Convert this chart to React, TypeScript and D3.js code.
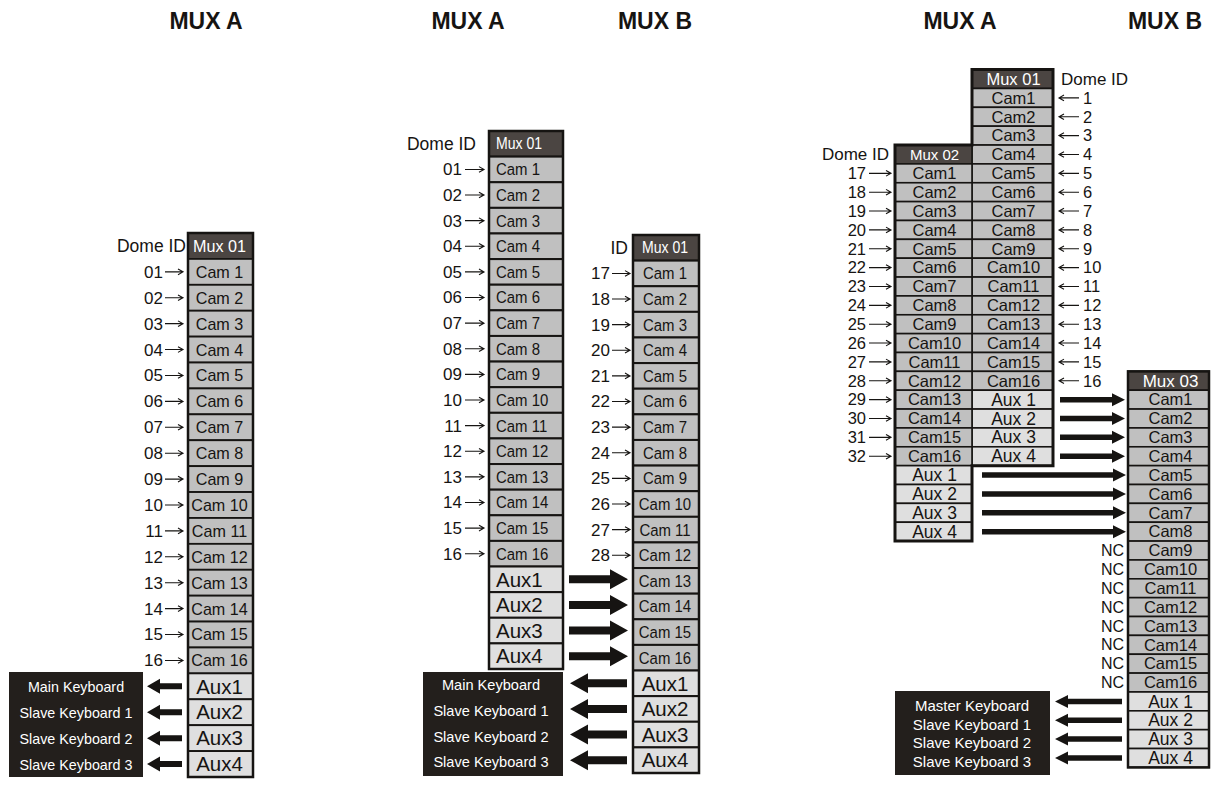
import React from 'react';
import * as d3 from 'd3';

// Labels
const muxTitles = ['MUX A', 'MUX A', 'MUX B', 'MUX A', 'MUX B'];
const camsSpaced = ['Cam 1', 'Cam 2', 'Cam 3', 'Cam 4', 'Cam 5', 'Cam 6', 'Cam 7', 'Cam 8',
  'Cam 9', 'Cam 10', 'Cam 11', 'Cam 12', 'Cam 13', 'Cam 14', 'Cam 15', 'Cam 16'];
const camsTight = ['Cam1', 'Cam2', 'Cam3', 'Cam4', 'Cam5', 'Cam6', 'Cam7', 'Cam8',
  'Cam9', 'Cam10', 'Cam11', 'Cam12', 'Cam13', 'Cam14', 'Cam15', 'Cam16'];
const auxTight = ['Aux1', 'Aux2', 'Aux3', 'Aux4'];
const auxSpaced = ['Aux 1', 'Aux 2', 'Aux 3', 'Aux 4'];
const domeIdsFirst = ['01', '02', '03', '04', '05', '06', '07', '08',
  '09', '10', '11', '12', '13', '14', '15', '16'];
const domeIdsSecond = ['17', '18', '19', '20', '21', '22', '23', '24', '25', '26', '27', '28'];
const domeIdsRightA = ['1', '2', '3', '4', '5', '6', '7', '8',
  '9', '10', '11', '12', '13', '14', '15', '16'];
const domeIdsRightB = ['17', '18', '19', '20', '21', '22', '23', '24',
  '25', '26', '27', '28', '29', '30', '31', '32'];
const ncLabels = ['NC', 'NC', 'NC', 'NC', 'NC', 'NC', 'NC', 'NC'];
const keyboardsMain = ['Main Keyboard', 'Slave Keyboard 1', 'Slave Keyboard 2', 'Slave Keyboard 3'];
const keyboardsMaster = ['Master Keyboard', 'Slave Keyboard 1', 'Slave Keyboard 2', 'Slave Keyboard 3'];

const FONT = 'Arial, "Liberation Sans", Helvetica, sans-serif';
const INK = '#161412';
const CAM_FILL = '#c0c0c0';
const AUX_FILL = '#dfdfdf';
const HEAD_FILL = '#4b4542';
const BOX_FILL = '#231f1c';

type Kind = 'head' | 'cam' | 'aux';
type Cell = { label: string; kind: Kind };

const buildCells = (head: string | null, cams: string[], aux: string[]): Cell[] => [
  ...(head ? [{ label: head, kind: 'head' as Kind }] : []),
  ...cams.map(l => ({ label: l, kind: 'cam' as Kind })),
  ...aux.map(l => ({ label: l, kind: 'aux' as Kind })),
];

function fatArrow(from: number, to: number, y: number, shaft: number, headLen: number, headH: number) {
  const dir = Math.sign(to - from);
  const neck = to - dir * headLen;
  const p = d3.path();
  p.moveTo(from, y - shaft / 2);
  p.lineTo(neck, y - shaft / 2);
  p.lineTo(neck, y - headH / 2);
  p.lineTo(to, y);
  p.lineTo(neck, y + headH / 2);
  p.lineTo(neck, y + shaft / 2);
  p.lineTo(from, y + shaft / 2);
  p.closePath();
  return p.toString();
}

function thinArrow(from: number, to: number, y: number) {
  const dir = Math.sign(to - from);
  const p = d3.path();
  p.moveTo(from, y);
  p.lineTo(to, y);
  p.moveTo(to - dir * 5, y - 2.8);
  p.lineTo(to, y);
  p.lineTo(to - dir * 5, y + 2.8);
  return p.toString();
}

const Txt: React.FC<{
  x: number; y: number; size: number; anchor?: string; fill?: string;
  weight?: string; squeeze?: number; children: React.ReactNode;
}> = ({ x, y, size, anchor = 'start', fill = INK, weight = 'normal', squeeze = 1, children }) => (
  <text
    transform={`translate(${x},${y}) scale(${squeeze},1)`}
    dy="0.35em"
    fontSize={size}
    fontFamily={FONT}
    fontWeight={weight}
    textAnchor={anchor}
    fill={fill}
  >
    {children}
  </text>
);

type ColProps = {
  x: number; w: number; rows: d3.ScaleLinear<number, number>; first: number; cells: Cell[];
  sizes: Record<Kind, number>; align: 'start' | 'middle'; pad?: number; squeeze?: number;
  cellStroke: number; border: number;
};

const MuxColumn: React.FC<ColProps> = ({ x, w, rows, first, cells, sizes, align, pad = 0, squeeze = 1, cellStroke, border }) => {
  const y0 = rows(first);
  const y1 = rows(first + cells.length);
  return (
    <g>
      {cells.map((c, i) => {
        const top = rows(first + i);
        const bot = rows(first + i + 1);
        const fill = c.kind === 'head' ? HEAD_FILL : c.kind === 'cam' ? CAM_FILL : AUX_FILL;
        const tx = align === 'start' ? x + pad : x + w / 2 + pad;
        return (
          <g key={i}>
            <rect x={x} y={top} width={w} height={bot - top} fill={fill} stroke={INK} strokeWidth={cellStroke} />
            <Txt x={tx} y={(top + bot) / 2} size={sizes[c.kind]} anchor={align}
              fill={c.kind === 'head' ? '#ffffff' : INK} squeeze={c.kind === 'aux' ? 1 : squeeze}>
              {c.label}
            </Txt>
          </g>
        );
      })}
      {border > 0 && (
        <rect x={x} y={y0} width={w} height={y1 - y0} fill="none" stroke={INK} strokeWidth={border} />
      )}
    </g>
  );
};

export default function App() {
  // row scales: row index -> top edge of that row
  const rowsL = d3.scaleLinear().domain([0, 21]).range([233, 777]);
  const rowsMA = d3.scaleLinear().domain([0, 21]).range([131, 669]);
  const rowsMB = d3.scaleLinear().domain([0, 21]).range([235, 773]);
  const rowsR = d3.scaleLinear().domain([0, 37]).range([69.6, 767.4]);
  const mid = (s: d3.ScaleLinear<number, number>, i: number) => (s(i) + s(i + 1)) / 2;

  const titleX = [206, 468, 655, 960, 1165];

  // right panel outline around Mux 01 + Mux 02
  const outline = d3.path();
  outline.moveTo(972, rowsR(0));
  outline.lineTo(1053, rowsR(0));
  outline.lineTo(1053, rowsR(21));
  outline.lineTo(972, rowsR(21));
  outline.lineTo(972, rowsR(25));
  outline.lineTo(895, rowsR(25));
  outline.lineTo(895, rowsR(4));
  outline.lineTo(972, rowsR(4));
  outline.closePath();

  return (
    <svg width={1215} height={787} style={{ position: 'fixed', left: 0, top: 0, background: '#fff' }}>
      {muxTitles.map((t, i) => (
        <Txt key={i} x={titleX[i]} y={20.5} size={23} anchor="middle" weight="bold">{t}</Txt>
      ))}

      {/* ---------- Panel 1: single mux ---------- */}
      <g>
        <Txt x={186} y={mid(rowsL, 0)} size={17.5} anchor="end">Dome ID</Txt>
        {domeIdsFirst.map((d, i) => (
          <g key={d}>
            <Txt x={163} y={mid(rowsL, i + 1)} size={17} anchor="end">{d}</Txt>
            <path d={thinArrow(165, 183, mid(rowsL, i + 1))} stroke={INK} strokeWidth={1.1} fill="none" />
          </g>
        ))}
        <MuxColumn x={188} w={65} rows={rowsL} first={0}
          cells={buildCells('Mux 01', camsSpaced, auxTight)}
          sizes={{ head: 17, cam: 17, aux: 20.5 }} align="middle" pad={-1} squeeze={0.95}
          cellStroke={1.8} border={2.5} />
        <rect x={9} y={672} width={134} height={105} fill={BOX_FILL} />
        {keyboardsMain.map((k, i) => (
          <g key={k}>
            <Txt x={76} y={mid(rowsL, 17 + i) + 0.5} size={14.3} anchor="middle" fill="#fff">{k}</Txt>
            <path d={fatArrow(182, 147, mid(rowsL, 17 + i), 6, 13, 15)} fill={INK} />
          </g>
        ))}
      </g>

      {/* ---------- Panel 2: two muxes ---------- */}
      <g>
        <Txt x={476} y={mid(rowsMA, 0)} size={17.5} anchor="end">Dome ID</Txt>
        {domeIdsFirst.map((d, i) => (
          <g key={d}>
            <Txt x={462} y={mid(rowsMA, i + 1)} size={17} anchor="end">{d}</Txt>
            <path d={thinArrow(465, 484, mid(rowsMA, i + 1))} stroke={INK} strokeWidth={1.1} fill="none" />
          </g>
        ))}
        <MuxColumn x={489} w={74} rows={rowsMA} first={0}
          cells={buildCells('Mux 01', camsSpaced, auxTight)}
          sizes={{ head: 16, cam: 17, aux: 20.5 }} align="start" pad={7} squeeze={0.88}
          cellStroke={2} border={2.5} />

        <Txt x={628} y={mid(rowsMB, 0)} size={17.5} anchor="end">ID</Txt>
        {domeIdsSecond.map((d, i) => (
          <g key={d}>
            <Txt x={610} y={mid(rowsMB, i + 1)} size={17} anchor="end">{d}</Txt>
            <path d={thinArrow(612, 630, mid(rowsMB, i + 1))} stroke={INK} strokeWidth={1.1} fill="none" />
          </g>
        ))}
        <MuxColumn x={633} w={66} rows={rowsMB} first={0}
          cells={buildCells('Mux 01', camsSpaced, auxTight)}
          sizes={{ head: 16, cam: 17, aux: 20.5 }} align="middle" pad={-1} squeeze={0.88}
          cellStroke={2} border={2.5} />

        {auxTight.map((a, i) => (
          <path key={a} d={fatArrow(569, 628, mid(rowsMA, 17 + i), 8, 18, 20)} fill={INK} />
        ))}

        <rect x={423} y={672} width={140} height={104} fill={BOX_FILL} />
        {keyboardsMain.map((k, i) => (
          <g key={k}>
            <Txt x={491} y={mid(rowsMB, 17 + i) + 2} size={14.6} anchor="middle" fill="#fff">{k}</Txt>
            <path d={fatArrow(627, 570, mid(rowsMB, 17 + i), 8, 18, 20)} fill={INK} />
          </g>
        ))}
      </g>

      {/* ---------- Panel 3: three muxes ---------- */}
      <g>
        <Txt x={1061} y={mid(rowsR, 0)} size={17} anchor="start">Dome ID</Txt>
        {domeIdsRightA.map((d, i) => (
          <g key={d}>
            <path d={thinArrow(1079, 1059, mid(rowsR, i + 1))} stroke={INK} strokeWidth={1.1} fill="none" />
            <Txt x={1083} y={mid(rowsR, i + 1)} size={16.5} anchor="start">{d}</Txt>
          </g>
        ))}
        <Txt x={889} y={mid(rowsR, 4)} size={17} anchor="end">Dome ID</Txt>
        {domeIdsRightB.map((d, i) => (
          <g key={d}>
            <Txt x={866} y={mid(rowsR, i + 5)} size={16.5} anchor="end">{d}</Txt>
            <path d={thinArrow(869, 891, mid(rowsR, i + 5))} stroke={INK} strokeWidth={1.1} fill="none" />
          </g>
        ))}

        <MuxColumn x={972} w={81} rows={rowsR} first={0}
          cells={buildCells('Mux 01', camsTight, auxSpaced)}
          sizes={{ head: 16.5, cam: 16.5, aux: 17.5 }} align="middle" pad={1}
          cellStroke={1.6} border={0} />
        <MuxColumn x={895} w={77} rows={rowsR} first={4}
          cells={buildCells('Mux 02', camsTight, auxSpaced)}
          sizes={{ head: 15, cam: 16.5, aux: 17.5 }} align="middle" pad={1}
          cellStroke={1.6} border={0} />
        <path d={outline.toString()} fill="none" stroke={INK} strokeWidth={3} />

        <MuxColumn x={1128} w={81} rows={rowsR} first={16}
          cells={buildCells('Mux 03', camsTight, auxSpaced)}
          sizes={{ head: 17, cam: 16.5, aux: 17.5 }} align="middle" pad={2}
          cellStroke={1.6} border={2.5} />

        {auxSpaced.map((a, i) => (
          <path key={'a' + a} d={fatArrow(1060, 1125, mid(rowsR, 17 + i), 5.5, 13, 13)} fill={INK} />
        ))}
        {auxSpaced.map((a, i) => (
          <path key={'b' + a} d={fatArrow(982, 1126, mid(rowsR, 21 + i), 5.5, 13, 13)} fill={INK} />
        ))}
        {ncLabels.map((n, i) => (
          <Txt key={i} x={1124} y={mid(rowsR, 25 + i)} size={16} anchor="end">{n}</Txt>
        ))}

        <rect x={895} y={691} width={155} height={84} fill={BOX_FILL} />
        {keyboardsMaster.map((k, i) => (
          <g key={k}>
            <Txt x={972} y={mid(rowsR, 33 + i) + 4} size={15} anchor="middle" fill="#fff">{k}</Txt>
            <path d={fatArrow(1122, 1055, mid(rowsR, 33 + i), 5.5, 13, 13)} fill={INK} />
          </g>
        ))}
      </g>
    </svg>
  );
}
